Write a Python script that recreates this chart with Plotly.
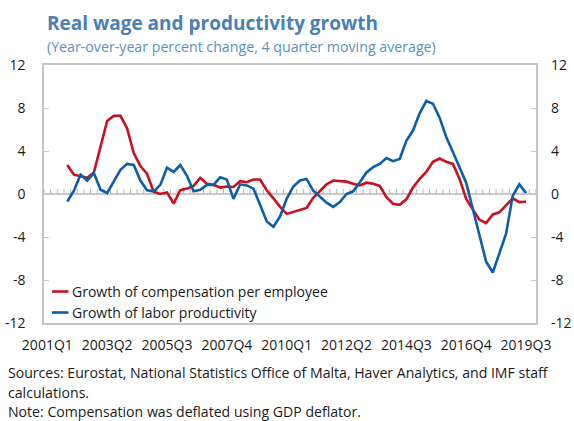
import plotly.graph_objects as go

# Quarterly categories on the horizontal axis: 2001Q1 .. 2019Q2
quarters = [f"{y}Q{q}" for y in range(2001, 2020) for q in range(1, 5)][:74]

# Both series start in 2001Q4 (index 3 of the category list)
series_start = 3

# Growth of compensation per employee (percent)
compensation = [
    2.7, 1.8, 1.65, 1.5, 2.0, 4.5, 6.8, 7.27, 7.27, 6.1,
    3.8, 2.6, 1.9, 0.2, 0.0, 0.15, -0.9, 0.35, 0.5, 0.75,
    1.5, 0.95, 0.85, 0.6, 0.7, 0.65, 1.2, 1.1, 1.35, 1.35,
    0.35, -0.4, -1.2, -1.85, -1.65, -1.5, -1.3, -0.35, 0.25, 0.9,
    1.25, 1.2, 1.15, 0.95, 0.8, 1.05, 0.95, 0.75, -0.3, -0.9,
    -1.0, -0.5, 0.6, 1.4, 2.05, 3.0, 3.3, 3.0, 2.8, 1.4,
    -0.45, -1.45, -2.4, -2.7, -1.9, -1.7, -1.05, -0.4, -0.75, -0.72,
]

# Growth of labor productivity (percent)
productivity = [
    -0.7, 0.3, 1.8, 1.25, 1.95, 0.4, 0.1, 1.15, 2.25, 2.8,
    2.7, 1.25, 0.35, 0.25, 0.85, 2.45, 2.05, 2.7, 1.7, 0.25,
    0.4, 0.85, 0.85, 1.55, 1.35, -0.45, 0.9, 0.8, 0.5, -1.0,
    -2.55, -3.05, -2.1, -0.45, 0.7, 1.25, 1.4, 0.3, -0.25, -0.8,
    -1.2, -0.75, 0.0, 0.25, 1.1, 2.0, 2.5, 2.8, 3.35, 3.05,
    3.25, 4.95, 5.9, 7.5, 8.65, 8.4, 7.1, 5.3, 3.9, 2.5,
    1.05, -1.4, -3.85, -6.3, -7.3, -5.55, -3.7, -0.15, 0.9, 0.1,
]

tick_step = 9
tick_labels = ["2001Q1", "2003Q2", "2005Q3", "2007Q4", "2010Q1",
               "2012Q2", "2014Q3", "2016Q4", "2019Q3"]
y_ticks = [-12, -8, -4, 0, 4, 8, 12]
y_tick_text = [str(v) for v in y_ticks]  # plain hyphen for negatives

RED = "#c8101e"
BLUE = "#0d5ea8"
TITLE_BLUE = "#4a80b4"
SUB_BLUE = "#5a92c4"
FRAME = "#c6c6c6"
FONT = "Open Sans"

W, H = 574, 421
L, R, T, B = 44, 38, 65, 98
PW, PH = W - L - R, H - T - B


def px(x):
    return (x - L) / PW


def py(y):
    return (H - B - y) / PH


x_idx = list(range(series_start, series_start + len(compensation)))

fig = go.Figure()
fig.add_trace(go.Scatter(
    x=x_idx, y=compensation, mode="lines",
    line=dict(color=RED, width=2.6), showlegend=False, hoverinfo="skip",
))
fig.add_trace(go.Scatter(
    x=x_idx, y=productivity, mode="lines",
    line=dict(color=BLUE, width=2.6), showlegend=False, hoverinfo="skip",
))
# carrier for the right-hand value axis
fig.add_trace(go.Scatter(x=[None], y=[None], yaxis="y2", showlegend=False,
                         hoverinfo="skip"))

shapes = []
# zero line with small category ticks standing on it
shapes.append(dict(type="line", xref="x", yref="y", x0=-0.5, x1=len(quarters) - 0.5,
                   y0=0, y1=0, line=dict(color="#b8b8b8", width=1.5), layer="below"))
for j in range(len(quarters) + 1):
    shapes.append(dict(type="line", xref="x", yref="y", ysizemode="pixel", yanchor=0,
                       x0=j - 0.5, x1=j - 0.5, y0=0, y1=5,
                       line=dict(color="#b8b8b8", width=1), layer="below"))

# legend keys
legend_items = [("Growth of compensation per employee", RED, 291.5),
                ("Growth of labor productivity", BLUE, 312.5)]
annotations = []
for label, color, yc in legend_items:
    shapes.append(dict(type="line", xref="paper", yref="paper",
                       x0=px(52), x1=px(68.5), y0=py(yc), y1=py(yc),
                       line=dict(color=color, width=2.6)))
    annotations.append(dict(text=label, xref="paper", yref="paper",
                            x=px(69.5), y=py(yc), xanchor="left", yanchor="middle",
                            showarrow=False, font=dict(size=14, color="#1a1a1a")))

annotations += [
    dict(text="<b>Real wage and productivity growth</b>", xref="paper", yref="paper",
         x=px(45), y=py(23.5), xanchor="left", yanchor="middle", showarrow=False,
         font=dict(size=19, color=TITLE_BLUE)),
    dict(text="(Year-over-year percent change, 4 quarter moving average)",
         xref="paper", yref="paper", x=px(45), y=py(46.5), xanchor="left",
         yanchor="middle", showarrow=False, font=dict(size=14.2, color=SUB_BLUE)),
    dict(text="Sources: Eurostat, National Statistics Office of Malta, Haver Analytics, and IMF staff",
         xref="paper", yref="paper", x=px(6), y=py(372), xanchor="left",
         yanchor="middle", showarrow=False, font=dict(size=14.1, color="#1a1a1a")),
    dict(text="calculations.", xref="paper", yref="paper", x=px(6), y=py(392),
         xanchor="left", yanchor="middle", showarrow=False,
         font=dict(size=14.1, color="#1a1a1a")),
    dict(text="Note: Compensation was deflated using GDP deflator.", xref="paper",
         yref="paper", x=px(6), y=py(411.5), xanchor="left", yanchor="middle",
         showarrow=False, font=dict(size=14.1, color="#1a1a1a")),
]

fig.update_layout(
    width=W, height=H,
    margin=dict(l=L, r=R, t=T, b=B, pad=0, autoexpand=False),
    paper_bgcolor="white", plot_bgcolor="white",
    font=dict(family=FONT, size=14, color="#1a1a1a"),
    showlegend=False,
    xaxis=dict(
        range=[-0.5, len(quarters) - 0.5],
        tickvals=list(range(0, len(quarters), tick_step)),
        ticktext=tick_labels,
        showgrid=False, zeroline=False, ticks="", automargin=False,
        showline=True, mirror=True, linecolor=FRAME, linewidth=1.5,
        tickfont=dict(size=14, color="#1a1a1a"), ticklabelstandoff=8,
    ),
    yaxis=dict(
        range=[-12, 12], tickvals=y_ticks, ticktext=y_tick_text, automargin=False,
        showgrid=False, zeroline=False,
        ticks="inside", ticklen=5, tickcolor=FRAME, tickwidth=1,
        showline=True, mirror=True, linecolor=FRAME, linewidth=1.5,
        tickfont=dict(size=14, color="#1a1a1a"), ticklabelstandoff=14,
    ),
    yaxis2=dict(
        range=[-12, 12], tickvals=y_ticks, ticktext=y_tick_text,
        overlaying="y", side="right",
        showgrid=False, zeroline=False, showline=False, automargin=False,
        ticks="inside", ticklen=5, tickcolor=FRAME, tickwidth=1,
        tickfont=dict(size=14, color="#1a1a1a"), ticklabelstandoff=14,
    ),
    shapes=shapes,
    annotations=annotations,
)

fig.write_html("out.html")
